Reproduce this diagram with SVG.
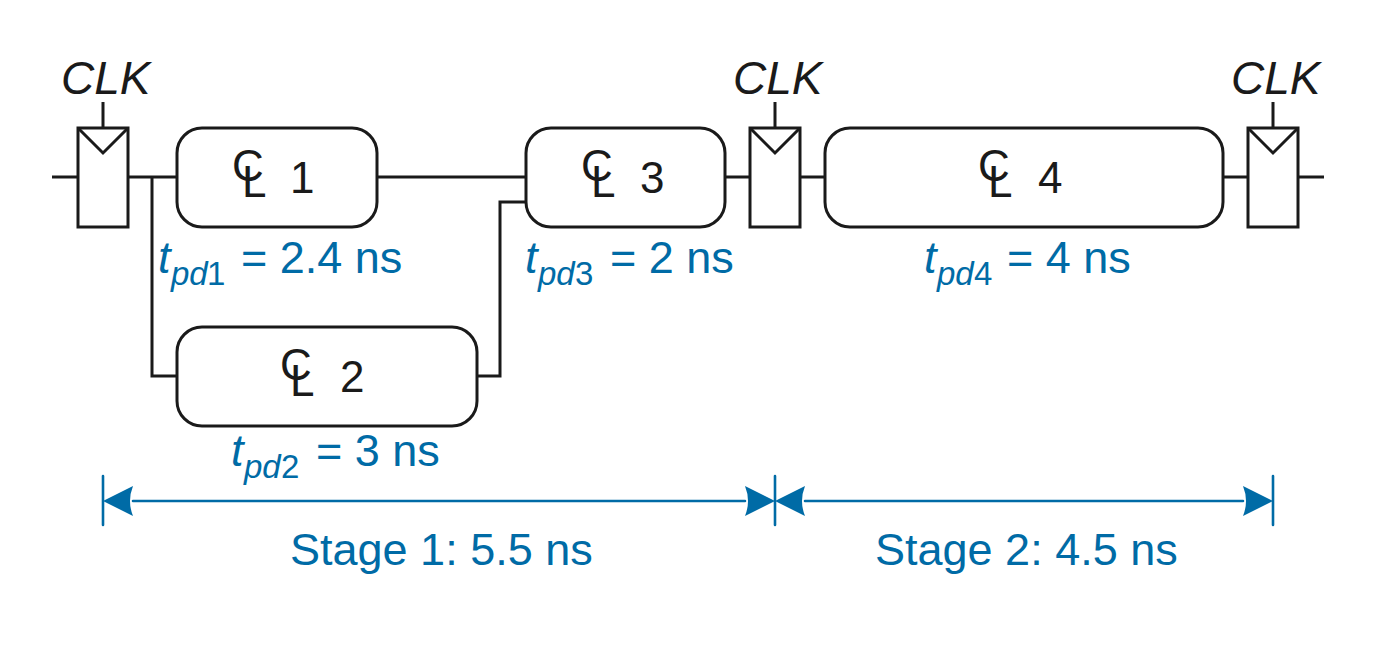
<svg xmlns="http://www.w3.org/2000/svg" width="1384" height="656" viewBox="0 0 1384 656">
<style>
text{font-family:"Liberation Sans",Arial,sans-serif;font-size:45px;fill:#1a1a1a}
.clk{font-style:italic;font-size:46px}
.n{font-size:44px}
.b{fill:#006ba6}
.i{font-style:italic}
.s{font-size:33px}
.sc{font-size:33px;font-style:italic}
.box,.reg{fill:#fff;stroke:#1a1a1a;stroke-width:3;stroke-linejoin:miter}
.w{fill:none;stroke:#1a1a1a;stroke-width:3}
.dim{fill:none;stroke:#006ba6;stroke-width:2.6;stroke-linecap:round}
.ah{fill:#006ba6}
</style>
<g id="connectors">
<path class="w" d="M52 177H78M128 177H177M377 177H526M725 177H750M800 177H825M1223 177H1248M1298 177H1324"/>
<path class="w" d="M152 177V376H177M477 376H500V202H526"/>
<path class="w" d="M103 102V128M775 102V128M1273 102V128"/>
</g>
<g id="reg1"><rect class="reg" x="78" y="128" width="50" height="99"/><path class="w" d="M78 128L103 153L128 128"/><text class="clk" x="61" y="94">CLK</text></g>
<g id="reg2"><rect class="reg" x="750" y="128" width="50" height="99"/><path class="w" d="M750 128L775 153L800 128"/><text class="clk" x="733" y="94">CLK</text></g>
<g id="reg3"><rect class="reg" x="1248" y="128" width="50" height="99"/><path class="w" d="M1248 128L1273 153L1298 128"/><text class="clk" x="1231" y="94">CLK</text></g>
<g id="cl1"><rect class="box" x="177" y="128" width="200" height="99" rx="25"/><text class="n" x="232" y="181">C</text><text class="n" x="242" y="197">L</text><text class="n" x="290" y="193">1</text></g>
<g id="cl2"><rect class="box" x="177" y="327" width="300" height="99" rx="25"/><text class="n" x="280" y="380">C</text><text class="n" x="290" y="396">L</text><text class="n" x="340" y="392">2</text></g>
<g id="cl3"><rect class="box" x="526" y="128" width="199" height="99" rx="25"/><text class="n" x="581" y="181">C</text><text class="n" x="591" y="197">L</text><text class="n" x="640" y="193">3</text></g>
<g id="cl4"><rect class="box" x="825" y="128" width="398" height="99" rx="25"/><text class="n" x="978" y="181">C</text><text class="n" x="988" y="197">L</text><text class="n" x="1038" y="193">4</text></g>
<g id="label1"><text class="b i" x="158" y="273">t</text><text class="b sc" x="171" y="285">pd</text><text class="b s" x="207" y="285">1</text><text class="b" x="241" y="273">= 2.4 ns</text></g>
<g id="label2"><text class="b i" x="231" y="466">t</text><text class="b sc" x="244" y="478">pd</text><text class="b s" x="281" y="478">2</text><text class="b" x="316" y="466">= 3 ns</text></g>
<g id="label3"><text class="b i" x="525" y="273">t</text><text class="b sc" x="538" y="285">pd</text><text class="b s" x="575" y="285">3</text><text class="b" x="610" y="273">= 2 ns</text></g>
<g id="label4"><text class="b i" x="924" y="273">t</text><text class="b sc" x="937" y="285">pd</text><text class="b s" x="974" y="285">4</text><text class="b" x="1007" y="273">= 4 ns</text></g>
<g id="dimensions">
<path class="dim" d="M103 476V525M775 476V525M1273 476V525"/>
<path class="dim" d="M133 501H745M805 501H1243"/>
<path class="ah" d="M103 501L133 486Q127 501 133 516Z"/>
<path class="ah" d="M775 501L745 486Q751 501 745 516Z"/>
<path class="ah" d="M775 501L805 486Q799 501 805 516Z"/>
<path class="ah" d="M1273 501L1243 486Q1249 501 1243 516Z"/>
<text class="b" x="290" y="565">Stage 1: 5.5 ns</text>
<text class="b" x="875" y="565">Stage 2: 4.5 ns</text>
</g>
</svg>
